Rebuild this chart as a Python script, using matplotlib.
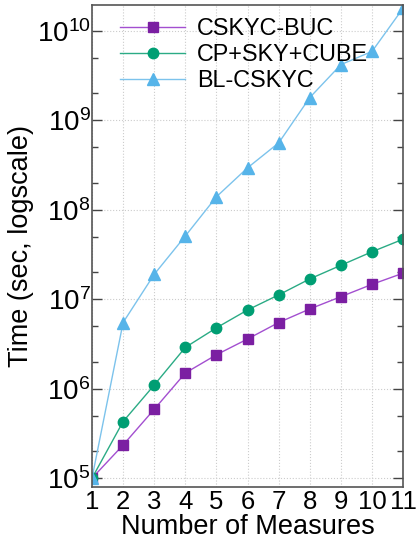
import matplotlib
matplotlib.use("Agg")
import matplotlib.pyplot as plt
from matplotlib.ticker import LogLocator, LogFormatterSciNotation, NullFormatter

plt.rcParams['font.family'] = ['Liberation Sans', 'DejaVu Sans']
plt.rcParams['mathtext.fontset'] = 'custom'
plt.rcParams['mathtext.rm'] = 'Liberation Sans'
plt.rcParams['mathtext.it'] = 'Liberation Sans'
plt.rcParams['mathtext.bf'] = 'Liberation Sans'

measures = [1, 2, 3, 4, 5, 6, 7, 8, 9, 10, 11]
cskyc_buc = [1e5, 2.35e5, 5.9e5, 1.5e6, 2.4e6, 3.6e6, 5.5e6, 7.8e6, 1.07e7, 1.47e7, 1.96e7]
cp_sky_cube = [1e5, 4.3e5, 1.1e6, 2.9e6, 4.8e6, 7.6e6, 1.12e7, 1.69e7, 2.4e7, 3.4e7, 4.7e7]
bl_cskyc = [1e5, 5.5e6, 1.9e7, 5.1e7, 1.4e8, 2.95e8, 5.6e8, 1.8e9, 4.2e9, 5.9e9, 1.8e10]

fig = plt.figure(figsize=(4.2, 5.48), dpi=100)
ax = fig.add_axes([0.219, 0.111, 0.741, 0.880])

ax.plot(measures, cskyc_buc, color='#a34fd0', lw=1, marker='s', ms=7.2,
        mfc='#7b1fa2', mec='#7b1fa2', label='CSKYC-BUC')
ax.plot(measures, cp_sky_cube, color='#2bab85', lw=1, marker='o', ms=7.5,
        mfc='#009e73', mec='#009e73', label='CP+SKY+CUBE')
ax.plot(measures, bl_cskyc, color='#7cc3ec', lw=1, marker='^', ms=8.5,
        mfc='#56b4e9', mec='#56b4e9', label='BL-CSKYC')

ax.set_yscale('log')
ax.set_xlim(1, 11)
ax.set_ylim(10**4.9, 10**10.29)
ax.set_xticks(measures)
ax.yaxis.set_major_locator(LogLocator(base=10, numticks=20))
ax.yaxis.set_major_formatter(LogFormatterSciNotation())
ax.yaxis.set_minor_locator(LogLocator(base=10, subs=(2, 5), numticks=20))
ax.yaxis.set_minor_formatter(NullFormatter())

ax.tick_params(axis='y', which='major', direction='in', length=7, width=1,
               left=True, right=True, labelsize=20, pad=1, color='#444444')
ax.tick_params(axis='y', which='minor', direction='in', length=4.5, width=1,
               left=True, right=True, color='#444444')
ax.tick_params(axis='x', length=0, labelsize=18.5, pad=2)

ax.grid(True, which='major', linestyle=':', color='#cccccc', lw=0.8)
for s in ax.spines.values():
    s.set_color('#555555')
    s.set_linewidth(1.2)

ax.set_xlabel('Number of Measures', fontsize=19.5, labelpad=0)
ax.set_ylabel('Time (sec, logscale)', fontsize=19.5, labelpad=2)

ax.legend(loc='upper left', bbox_to_anchor=(0.09, 0.975), frameon=False,
          fontsize=16.8, handlelength=2.8, handletextpad=0.5, labelspacing=0.13,
          borderaxespad=0, borderpad=0)

fig.savefig('out.png', dpi=100)
